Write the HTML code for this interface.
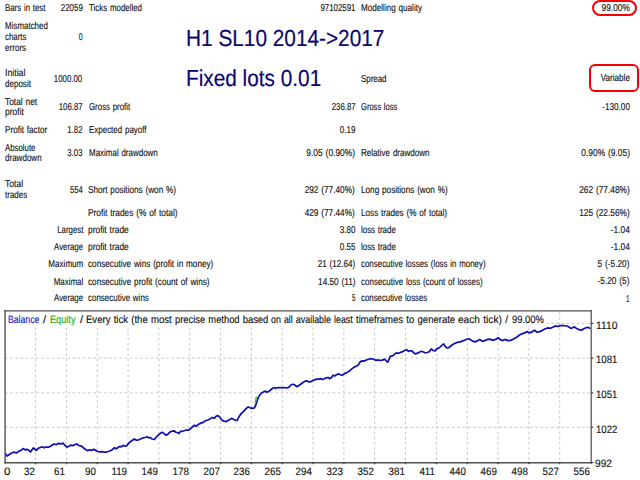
<!DOCTYPE html>
<html><head><meta charset="utf-8"><title>Strategy Tester Report</title>
<style>
html,body{margin:0;padding:0;background:#fff;}
body{width:640px;height:480px;position:relative;overflow:hidden;font-family:"Liberation Sans",sans-serif;}
span{position:absolute;white-space:pre;display:block;color:#151515;-webkit-text-stroke-width:0.15px}
.t{word-spacing:0.7px;font-size:10px;line-height:12px;}
.c{word-spacing:0.7px;font-size:10.7px;line-height:13px;}
span{text-rendering:geometricPrecision}
.h{font-size:23.2px;line-height:28px;-webkit-text-stroke-width:0.2px}
.l{transform-origin:0 50%;}
.r{transform-origin:100% 50%;}
.box{position:absolute;border:2px solid #f40000;box-sizing:border-box;}
#chart{position:absolute;left:0;top:0;}
</style></head><body>
<svg id="chart" width="640" height="480" viewBox="0 0 640 480">
<g stroke="#c6c6c6" stroke-width="1" stroke-dasharray="2.6 2.6" fill="none">
<line x1="35.60" y1="312" x2="35.60" y2="462" />
<line x1="66.43" y1="312" x2="66.43" y2="462" />
<line x1="97.26" y1="312" x2="97.26" y2="462" />
<line x1="128.09" y1="312" x2="128.09" y2="462" />
<line x1="158.92" y1="312" x2="158.92" y2="462" />
<line x1="189.75" y1="312" x2="189.75" y2="462" />
<line x1="220.58" y1="312" x2="220.58" y2="462" />
<line x1="251.41" y1="312" x2="251.41" y2="462" />
<line x1="282.24" y1="312" x2="282.24" y2="462" />
<line x1="313.07" y1="312" x2="313.07" y2="462" />
<line x1="343.90" y1="312" x2="343.90" y2="462" />
<line x1="374.73" y1="312" x2="374.73" y2="462" />
<line x1="405.56" y1="312" x2="405.56" y2="462" />
<line x1="436.39" y1="312" x2="436.39" y2="462" />
<line x1="467.22" y1="312" x2="467.22" y2="462" />
<line x1="498.05" y1="312" x2="498.05" y2="462" />
<line x1="528.88" y1="312" x2="528.88" y2="462" />
<line x1="559.71" y1="312" x2="559.71" y2="462" />
<line x1="5" y1="323.4" x2="591" y2="323.4" />
<line x1="5" y1="358.1" x2="591" y2="358.1" />
<line x1="5" y1="392.9" x2="591" y2="392.9" />
<line x1="5" y1="427.3" x2="591" y2="427.3" />
</g>
<rect x="6" y="312" width="541" height="14" fill="#fff"/>
<polyline fill="none" stroke="#1010b4" stroke-width="1.75" stroke-linejoin="round" stroke-linecap="round" points="5.5,453.75 7,456.1 9.4,454.5 11.7,453 14,452.2 16.4,453 18.75,451.4 21.1,450.3 23.1,448.6 25,449.8 26.9,449.4 28.9,450.3 30.5,451.9 32,449.8 33.3,448 34.7,449 36.25,450.3 38.3,448.3 40.3,447.5 42.2,446.7 44,447.8 46.1,447 48.4,447.2 50.8,445.9 53.9,444 56.25,444.7 58.6,443.3 60.9,444 63,443.1 64.8,445.2 66.9,447.2 68.75,446.25 70.6,445.2 72.7,445.6 74.7,444.7 76.9,443.9 78.9,445.6 81.25,445.9 83.6,448 85.9,449.8 87.8,450.6 89.8,449.8 91.9,450.3 93.75,449.4 96.1,450.6 98,451.5 99.7,451.9 102,451.6 104.4,452 106.7,452 109,451.25 111.4,450.3 113.4,448.75 114.5,447.7 116.1,448.75 118.4,447.2 120,446.4 121.25,446.9 123.1,445.3 125,446.25 126.7,445.8 128.6,443.4 130.6,441.4 132.5,440.3 134.4,439 136.4,440.2 138.75,439.8 141.1,438.75 143.1,437.8 145,437.5 147,436.7 148.9,437.8 150.5,437.5 152,439 154.4,439.4 156.25,437.2 158.3,435.2 160.3,433.3 162.2,432.3 164,433.6 166.1,435.2 167.7,434.4 169.7,432.3 171.6,431.25 173.9,430.8 175.9,432.3 177.8,432.5 178.9,433.6 180.6,431.25 182.5,431.25 184.8,430.5 187.2,430 188.75,430.2 190.3,428.8 191.9,427.3 194.4,425.3 196.25,426.25 198.6,424.2 200.9,423.1 203.3,422.3 205.6,420.6 208,420 210.3,418.75 212.3,417.5 214.2,418.3 216.25,416.1 218.1,415.6 220,417.5 222,420.3 224,421.1 226.25,421.6 228.3,420.3 230.3,419.2 231.9,418.4 233.75,419.5 235.6,420.3 237.2,420.3 238.75,417.2 240.8,414 242.8,412.2 244.7,410.2 246.6,408.1 248.1,407 250.2,407.8 252.2,408.3 254.4,407.8 255.6,405.5 256.9,401.6 258,398.1 259.5,395.3 261.6,393 263.4,391.9 265.3,391.1 266.9,392.2 268.9,391.4 270.9,389.8 272.8,388 275.2,387.8 277.5,387.8 279.8,387.5 282.2,387.8 284.5,387.5 286.9,388 288.9,387.2 290.9,385 293.1,384.2 294.8,385 296.7,386.6 298.75,385.6 300.6,384.2 303,382.5 305,381.1 306.9,380.9 308.75,381.9 310.8,381.7 312.8,380.6 314.7,379.8 316.7,379.1 318.6,379.1 320.6,378.6 322.5,379.5 324.4,378.75 326.4,377.8 328,377.5 329.5,378.6 331.6,377.5 333,375.2 334.7,375.9 336.6,374.7 338.4,373.9 340.5,374.8 342,375.2 344.1,373.9 346.25,372.8 348.3,371.7 350.3,370.2 352.2,368.6 354.1,367.3 356.1,366.25 358.1,365.3 359.2,363.4 360.5,361.6 362.3,360.8 363.9,361.1 365.9,360.3 367.8,359.5 370.2,358.75 372.2,358.75 374.1,359.5 375.9,360.3 378,359.8 380,360.5 382.3,360.2 384.4,359.1 386.25,360.9 387.8,362.2 389.1,359.1 390.2,356.25 392.2,355.9 394.1,354.7 396.4,352.8 398.4,353.3 400.3,352.5 402.7,351.6 404.7,350.5 406.6,349.7 408.4,351.25 410.2,350.9 412,350.9 413.6,352.8 415.6,353.9 417.5,353.1 419.8,352 421.4,351.25 423.4,352 425.3,352.8 427.2,352.5 429.2,351.7 431.25,348.9 433.1,350.5 435,350.9 436.7,348.9 438.6,348.1 440.6,346.6 442.2,345 443.75,343.9 445.3,346.6 446.9,347.8 448.75,347.7 450.6,346.25 452.7,344.5 454.7,343.4 456.6,342.7 458.4,342.2 460.5,341.9 462.5,340.8 464.4,340.3 466.25,339.5 468.3,338.75 469.8,339.2 471.4,340.3 473.4,341.4 475,341.9 477.25,340.9 479.7,339.6 482.5,341.3 485.3,340.4 487.75,339.4 490,339.1 492.8,340.4 495.6,339.4 498.1,337.75 500.3,339.6 502.75,340.6 505,339.4 507.8,340.6 510.6,340.4 513.4,339.1 516.25,337.6 519.1,335.3 521.9,333.8 524.7,332.9 527.1,331.6 529.4,332.9 531.8,331.9 534.6,330.25 536.9,332.1 539.7,331.6 542.5,330.25 545.3,328.75 548.1,327.8 550,328.4 552.8,327.25 555.25,325.9 557.5,326.5 560.3,325.6 563.1,325.6 565.9,325.75 568.2,326.5 570.6,328.2 572.5,327.8 574.4,326.9 576.25,328.2 579.1,329.7 581.5,330.25 583.75,328.75 586,327.8 587.9,327.25 589.75,328.2"/>
<line x1="256.3" y1="396.5" x2="255.4" y2="403" stroke="#30c030" stroke-width="1.4"/>
<circle cx="275.5" cy="389.6" r="0.7" fill="#30c030"/>
<g stroke="#505050" stroke-width="1.4" fill="none">
<line x1="5.1" y1="310" x2="5.1" y2="463.5"/>
<line x1="4.2" y1="310.9" x2="592" y2="310.9"/>
<line x1="4.2" y1="462.7" x2="592" y2="462.7"/>
<line x1="591.2" y1="310" x2="591.2" y2="463.5" stroke-width="1.3" stroke="#585858"/>
</g>
<g stroke="#3c3c3c" stroke-width="1.2" fill="none">
<line x1="35.60" y1="462" x2="35.60" y2="464.3" />
<line x1="66.43" y1="462" x2="66.43" y2="464.3" />
<line x1="97.26" y1="462" x2="97.26" y2="464.3" />
<line x1="128.09" y1="462" x2="128.09" y2="464.3" />
<line x1="158.92" y1="462" x2="158.92" y2="464.3" />
<line x1="189.75" y1="462" x2="189.75" y2="464.3" />
<line x1="220.58" y1="462" x2="220.58" y2="464.3" />
<line x1="251.41" y1="462" x2="251.41" y2="464.3" />
<line x1="282.24" y1="462" x2="282.24" y2="464.3" />
<line x1="313.07" y1="462" x2="313.07" y2="464.3" />
<line x1="343.90" y1="462" x2="343.90" y2="464.3" />
<line x1="374.73" y1="462" x2="374.73" y2="464.3" />
<line x1="405.56" y1="462" x2="405.56" y2="464.3" />
<line x1="436.39" y1="462" x2="436.39" y2="464.3" />
<line x1="467.22" y1="462" x2="467.22" y2="464.3" />
<line x1="498.05" y1="462" x2="498.05" y2="464.3" />
<line x1="528.88" y1="462" x2="528.88" y2="464.3" />
<line x1="559.71" y1="462" x2="559.71" y2="464.3" />
<line x1="591" y1="323.4" x2="593.3" y2="323.4" />
<line x1="591" y1="358.1" x2="593.3" y2="358.1" />
<line x1="591" y1="392.9" x2="593.3" y2="392.9" />
<line x1="591" y1="427.3" x2="593.3" y2="427.3" />
<line x1="591" y1="462.6" x2="593.3" y2="462.6" />
</g>
</svg>
<div class="box" style="left:592px;top:0px;width:45px;height:16px;border-radius:8px"></div>
<div class="box" style="left:589px;top:64px;width:50px;height:28px;border-radius:6px"></div>
<span class="t l" style="left:4.60px;top:3.49px;transform:scaleX(0.7857)">Bars in test</span>
<span class="t l" style="left:4.60px;top:20.98px;transform:scaleX(0.7958)">Mismatched</span>
<span class="t l" style="left:4.60px;top:32.23px;transform:scaleX(0.7858)">charts</span>
<span class="t l" style="left:4.60px;top:42.98px;transform:scaleX(0.8096)">errors</span>
<span class="t l" style="left:4.60px;top:67.98px;transform:scaleX(0.8733)">Initial</span>
<span class="t l" style="left:4.60px;top:78.98px;transform:scaleX(0.8031)">deposit</span>
<span class="t l" style="left:4.60px;top:96.73px;transform:scaleX(0.8347)">Total net</span>
<span class="t l" style="left:4.60px;top:107.23px;transform:scaleX(0.8500)">profit</span>
<span class="t l" style="left:4.60px;top:125.23px;transform:scaleX(0.8133)">Profit factor</span>
<span class="t l" style="left:4.60px;top:142.98px;transform:scaleX(0.7811)">Absolute</span>
<span class="t l" style="left:4.60px;top:153.48px;transform:scaleX(0.8038)">drawdown</span>
<span class="t l" style="left:4.60px;top:178.83px;transform:scaleX(0.8568)">Total</span>
<span class="t l" style="left:4.60px;top:190.23px;transform:scaleX(0.7987)">trades</span>
<span class="t r" style="right:557.40px;top:3.49px;transform:scaleX(0.7946)">22059</span>
<span class="t r" style="right:557.40px;top:32.23px;transform:scaleX(0.6921)">0</span>
<span class="t r" style="right:557.40px;top:73.73px;transform:scaleX(0.7841)">1000.00</span>
<span class="t r" style="right:557.40px;top:102.23px;transform:scaleX(0.7796)">106.87</span>
<span class="t r" style="right:557.40px;top:125.23px;transform:scaleX(0.7756)">1.82</span>
<span class="t r" style="right:557.40px;top:148.23px;transform:scaleX(0.7756)">3.03</span>
<span class="t r" style="right:557.20px;top:184.63px;transform:scaleX(0.7670)">554</span>
<span class="t r" style="right:557.00px;top:224.93px;transform:scaleX(0.7854)">Largest</span>
<span class="t r" style="right:557.00px;top:241.83px;transform:scaleX(0.7821)">Average</span>
<span class="t r" style="right:557.00px;top:259.24px;transform:scaleX(0.8075)">Maximum</span>
<span class="t r" style="right:557.00px;top:276.54px;transform:scaleX(0.7950)">Maximal</span>
<span class="t r" style="right:557.00px;top:293.44px;transform:scaleX(0.7821)">Average</span>
<span class="t l" style="left:88.75px;top:3.49px;transform:scaleX(0.7907)">Ticks modelled</span>
<span class="t l" style="left:88.75px;top:102.23px;transform:scaleX(0.7874)">Gross profit</span>
<span class="t l" style="left:88.75px;top:125.23px;transform:scaleX(0.7960)">Expected payoff</span>
<span class="t l" style="left:88.75px;top:148.23px;transform:scaleX(0.7967)">Maximal drawdown</span>
<span class="t l" style="left:88.20px;top:184.63px;transform:scaleX(0.8171)">Short positions (won %)</span>
<span class="t l" style="left:88.20px;top:208.23px;transform:scaleX(0.8299)">Profit trades (% of total)</span>
<span class="t l" style="left:88.20px;top:224.93px;transform:scaleX(0.8410)">profit trade</span>
<span class="t l" style="left:88.20px;top:241.83px;transform:scaleX(0.8410)">profit trade</span>
<span class="t l" style="left:88.20px;top:259.24px;transform:scaleX(0.8167)">consecutive wins (profit in money)</span>
<span class="t l" style="left:88.20px;top:276.54px;transform:scaleX(0.8186)">consecutive profit (count of wins)</span>
<span class="t l" style="left:88.20px;top:293.44px;transform:scaleX(0.7969)">consecutive wins</span>
<span class="t r" style="right:284.90px;top:3.49px;transform:scaleX(0.7888)">97102591</span>
<span class="t r" style="right:284.90px;top:102.23px;transform:scaleX(0.7796)">236.87</span>
<span class="t r" style="right:284.90px;top:125.23px;transform:scaleX(0.8064)">0.19</span>
<span class="t r" style="right:284.90px;top:148.23px;transform:scaleX(0.8384)">9.05 (0.90%)</span>
<span class="t r" style="right:284.90px;top:184.63px;transform:scaleX(0.8247)">292 (77.40%)</span>
<span class="t r" style="right:284.90px;top:208.23px;transform:scaleX(0.8247)">429 (77.44%)</span>
<span class="t r" style="right:284.90px;top:224.93px;transform:scaleX(0.8064)">3.80</span>
<span class="t r" style="right:284.90px;top:241.83px;transform:scaleX(0.8064)">0.55</span>
<span class="t r" style="right:284.90px;top:259.24px;transform:scaleX(0.8100)">21 (12.64)</span>
<span class="t r" style="right:284.90px;top:276.54px;transform:scaleX(0.8233)">14.50 (11)</span>
<span class="t r" style="right:284.90px;top:293.44px;transform:scaleX(0.6292)">5</span>
<span class="t l" style="left:360.75px;top:3.49px;transform:scaleX(0.8113)">Modelling quality</span>
<span class="t l" style="left:360.75px;top:73.73px;transform:scaleX(0.7907)">Spread</span>
<span class="t l" style="left:360.75px;top:102.23px;transform:scaleX(0.7562)">Gross loss</span>
<span class="t l" style="left:361.00px;top:148.23px;transform:scaleX(0.8053)">Relative drawdown</span>
<span class="t l" style="left:361.00px;top:184.63px;transform:scaleX(0.8176)">Long positions (won %)</span>
<span class="t l" style="left:361.00px;top:208.23px;transform:scaleX(0.8142)">Loss trades (% of total)</span>
<span class="t l" style="left:361.00px;top:224.93px;transform:scaleX(0.7898)">loss trade</span>
<span class="t l" style="left:361.00px;top:241.83px;transform:scaleX(0.7898)">loss trade</span>
<span class="t l" style="left:361.00px;top:259.24px;transform:scaleX(0.7921)">consecutive losses (loss in money)</span>
<span class="t l" style="left:361.00px;top:276.54px;transform:scaleX(0.7990)">consecutive loss (count of losses)</span>
<span class="t l" style="left:361.00px;top:293.44px;transform:scaleX(0.7833)">consecutive losses</span>
<span class="t r" style="right:10.40px;top:3.49px;transform:scaleX(0.8343)">99.00%</span>
<span class="t r" style="right:10.30px;top:73.48px;transform:scaleX(0.8150)">Variable</span>
<span class="t r" style="right:10.30px;top:102.23px;transform:scaleX(0.8166)">-130.00</span>
<span class="t r" style="right:10.40px;top:148.23px;transform:scaleX(0.8384)">0.90% (9.05)</span>
<span class="t r" style="right:10.40px;top:184.63px;transform:scaleX(0.8329)">262 (77.48%)</span>
<span class="t r" style="right:10.40px;top:208.23px;transform:scaleX(0.8329)">125 (22.56%)</span>
<span class="t r" style="right:10.40px;top:224.93px;transform:scaleX(0.8334)">-1.04</span>
<span class="t r" style="right:10.40px;top:241.83px;transform:scaleX(0.8334)">-1.04</span>
<span class="t r" style="right:10.40px;top:259.24px;transform:scaleX(0.8312)">5 (-5.20)</span>
<span class="t r" style="right:10.40px;top:276.44px;transform:scaleX(0.8312)">-5.20 (5)</span>
<span class="t r" style="right:10.80px;top:293.54px;transform:scaleX(0.6292)">1</span>
<span class="h" style="left:186.20px;top:23.96px;transform:scale(0.8973,1);transform-origin:0 22.04px;color:#0c0670">H1 SL10 2014-&gt;2017</span>
<span class="h" style="left:186.20px;top:63.96px;transform:scale(0.8965,1);transform-origin:0 22.04px;color:#0c0670">Fixed lots 0.01</span>
<span class="c l" style="left:4.40px;top:466.19px;transform:scaleX(1.0751)">0</span>
<span class="c r" style="right:605.60px;top:466.19px;transform:scaleX(0.9180)">32</span>
<span class="c r" style="right:574.77px;top:466.19px;transform:scaleX(0.9180)">61</span>
<span class="c r" style="right:543.94px;top:466.19px;transform:scaleX(0.9180)">90</span>
<span class="c r" style="right:513.11px;top:466.19px;transform:scaleX(0.9180)">119</span>
<span class="c r" style="right:482.28px;top:466.19px;transform:scaleX(0.9180)">149</span>
<span class="c r" style="right:451.45px;top:466.19px;transform:scaleX(0.9180)">178</span>
<span class="c r" style="right:420.62px;top:466.19px;transform:scaleX(0.9180)">207</span>
<span class="c r" style="right:389.79px;top:466.19px;transform:scaleX(0.9180)">236</span>
<span class="c r" style="right:358.96px;top:466.19px;transform:scaleX(0.9180)">265</span>
<span class="c r" style="right:328.13px;top:466.19px;transform:scaleX(0.9180)">294</span>
<span class="c r" style="right:297.30px;top:466.19px;transform:scaleX(0.9180)">323</span>
<span class="c r" style="right:266.47px;top:466.19px;transform:scaleX(0.9180)">352</span>
<span class="c r" style="right:235.64px;top:466.19px;transform:scaleX(0.9180)">381</span>
<span class="c r" style="right:204.81px;top:466.19px;transform:scaleX(0.9180)">411</span>
<span class="c r" style="right:173.98px;top:466.19px;transform:scaleX(0.9180)">440</span>
<span class="c r" style="right:143.15px;top:466.19px;transform:scaleX(0.9180)">469</span>
<span class="c r" style="right:112.32px;top:466.19px;transform:scaleX(0.9180)">498</span>
<span class="c r" style="right:81.49px;top:466.19px;transform:scaleX(0.9180)">527</span>
<span class="c r" style="right:50.66px;top:466.19px;transform:scaleX(0.9180)">556</span>
<span class="c l" style="left:595.60px;top:319.74px;transform:scaleX(0.9645)">1110</span>
<span class="c l" style="left:595.60px;top:354.09px;transform:scaleX(0.8999)">1081</span>
<span class="c l" style="left:595.60px;top:388.79px;transform:scaleX(0.8999)">1051</span>
<span class="c l" style="left:595.60px;top:423.59px;transform:scaleX(0.8999)">1022</span>
<span class="c l" style="left:594.80px;top:458.29px;transform:scaleX(0.9527)">992</span>
<span class="c l" style="left:8.00px;top:314.39px;transform:scaleX(0.8104);color:#2020c0">Balance</span>
<span class="c l" style="left:43.00px;top:314.39px;transform:scaleX(1.0723)">/</span>
<span class="c l" style="left:49.50px;top:314.39px;transform:scaleX(0.8580);color:#20b020">Equity</span>
<span class="c l" style="left:79.50px;top:314.39px;transform:scaleX(1.0723)">/</span>
<span class="c l" style="left:85.70px;top:314.39px;transform:scaleX(0.8935)">Every tick (the most </span>
<span class="c l" style="left:174.70px;top:314.39px;transform:scaleX(0.8754)">precise method based </span>
<span class="c l" style="left:271.20px;top:314.39px;transform:scaleX(0.8311)">on all available least </span>
<span class="c l" style="left:356.00px;top:314.39px;transform:scaleX(0.8907)">timeframes to generate </span>
<span class="c l" style="left:458.40px;top:314.39px;transform:scaleX(0.9427)">each tick) / </span>
<span class="c l" style="left:511.90px;top:314.39px;transform:scaleX(0.8828)">99.00%</span>
</body></html>
